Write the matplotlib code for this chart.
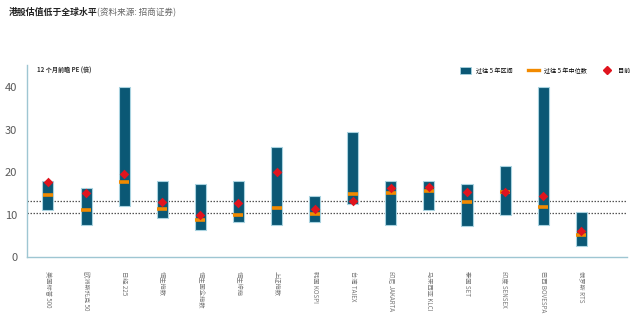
import matplotlib
matplotlib.use("Agg")
import matplotlib.pyplot as plt
from matplotlib.lines import Line2D
from matplotlib.patches import Patch

plt.rcParams['font.family'] = ['Noto Sans CJK SC', 'DejaVu Sans']

markets = ["美国标普 500", "欧洲斯托克 50", "日经 225", "恒生指数", "恒生国企指数",
           "恒生综指", "上证指数", "韩国 KOSPI", "台湾 TAIEX", "印尼 JAKARTA",
           "马来西亚 KLCI", "泰国 SET", "印度 SENSEX", "巴西 BOVESPA", "俄罗斯 RTS"]
low5y = [11.1, 7.6, 12.1, 9.3, 6.4, 8.3, 7.6, 8.3, 12.5, 7.6, 11.1, 7.4, 10.0, 7.6, 2.7]
high5y = [18.0, 16.3, 40.0, 18.0, 17.2, 18.0, 26.0, 14.5, 29.5, 18.0, 18.0, 17.2, 21.4, 40.0, 10.7]
median5y = [14.6, 11.2, 17.8, 11.4, 8.7, 9.9, 11.7, 10.1, 15.0, 15.1, 15.6, 13.0, 15.4, 11.8, 5.3]
current = [17.7, 15.2, 19.5, 12.9, 10.0, 12.7, 20.1, 11.3, 13.3, 16.2, 16.6, 15.4, 15.4, 14.4, 6.3]
ref_levels = [13.3, 10.35]

bar_color = "#0b5875"
edge_color = "#a9d3e0"
median_color = "#f28a00"
current_color = "#e0141e"
spine_color = "#9ec6d2"

fig = plt.figure(figsize=(6.4, 3.26), dpi=100)
ax = fig.add_axes([0.0422, 0.2107, 0.9375, 0.5898])

x = list(range(len(markets)))
heights = [h - l for h, l in zip(high5y, low5y)]
ax.bar(x, heights, bottom=low5y, width=0.29, color=bar_color,
       edgecolor=edge_color, linewidth=0.8, zorder=2)
ax.scatter(x, median5y, marker="_", s=55, linewidths=2.6, color=median_color, zorder=3)
ax.scatter(x, current, marker="D", s=24, color=current_color, linewidths=0, zorder=4)

for lvl in ref_levels:
    ax.axhline(lvl, color="#555555", linestyle=(0, (1.2, 1.2)), linewidth=0.9, zorder=1)

ax.set_xlim(-0.55, 15.2)
ax.set_ylim(0, 45.2)
ax.set_yticks([0, 10, 20, 30, 40])
ax.tick_params(axis="y", length=0, pad=7, labelsize=8, labelcolor="#5a5a5a")
ax.set_xticks(x)
ax.set_xticklabels(markets, rotation=270, fontsize=4.5, color="#777777", va="top", ha="center")
ax.tick_params(axis="x", length=0, pad=10)

for side in ["top", "right"]:
    ax.spines[side].set_visible(False)
for side in ["left", "bottom"]:
    ax.spines[side].set_color(spine_color)
    ax.spines[side].set_linewidth(1.0)

ax.text(-0.29, 44.0, "12 个月前瞻 PE (倍)", fontsize=4.4, fontweight="bold", color="#333333",
        ha="left", va="center")

handles = [
    Patch(facecolor=bar_color, edgecolor=edge_color, linewidth=0.6),
    Line2D([], [], color=median_color, linewidth=2.4),
    Line2D([], [], marker="D", color=current_color, linestyle="none", markersize=4.5),
]
labels = ["过往 5 年区间", "过往 5 年中位数", "目前"]
ax.legend(handles, labels, loc="upper right", bbox_to_anchor=(1.015, 1.02), ncol=3,
          frameon=False, fontsize=4.4, handlelength=1.8, handleheight=1.2,
          columnspacing=2.4, handletextpad=0.9)

fig.text(0.014, 0.962, "港股估值低于全球水平", fontsize=6.4, fontweight="bold",
         color="#222222", ha="left", va="center")
fig.text(0.151, 0.962, "(资料来源: 招商证券)", fontsize=6.2, color="#666666",
         ha="left", va="center")

fig.savefig("out.png", dpi=100)
